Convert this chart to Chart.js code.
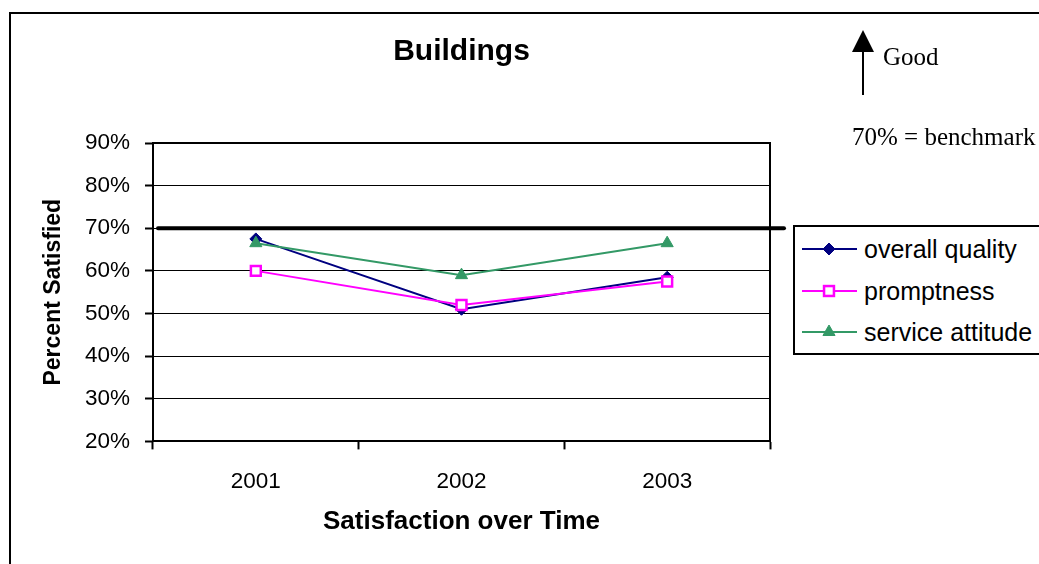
<!DOCTYPE html>
<html>
<head>
<meta charset="utf-8">
<title>Buildings</title>
<script src="https://cdn.jsdelivr.net/npm/chart.js@4.4.1/dist/chart.umd.min.js"></script>
<style>
  body { margin: 0; background: #fff; }
  #wrap { position: relative; width: 1039px; height: 564px; overflow: hidden; background: #fff; }
  #frame { position: absolute; left: 9px; top: 12px; width: 1100px; height: 600px; border: 2px solid #000; box-sizing: border-box; }
  #chart { position: absolute; left: 0; top: 0; }
  .note { position: absolute; font-family: 'Liberation Serif', 'Times New Roman', serif; font-size: 25px; line-height: 25px; color: #000; white-space: nowrap; }
  #arrow { position: absolute; left: 850px; top: 25px; }
  #legend { position: absolute; left: 793px; top: 225px; width: 300px; height: 130px; border: 2px solid #000; box-sizing: border-box; background: #fff;
            font-family: 'Liberation Sans', Arial, sans-serif; font-size: 25px; color: #000; }
  .row { position: absolute; left: 7px; height: 30px; display: flex; align-items: center; white-space: nowrap; }
  .row svg { margin-right: 7px; }
</style>
</head>
<body>
<div id="wrap">
  <div id="frame"></div>
  <canvas id="chart" width="1039" height="564"></canvas>
  <svg id="arrow" width="30" height="75">
    <line x1="13" y1="24" x2="13" y2="70" stroke="#000" stroke-width="2"/>
    <polygon points="2,27 24,27 13,5" fill="#000"/>
  </svg>
  <div class="note" style="left:883px; top:44px;">Good</div>
  <div class="note" style="left:852px; top:124px;">70% = benchmark</div>
  <div id="legend"></div>
</div>
<script>
// categories and series
const years = ['2001', '2002', '2003'];
const overallQuality = [67.5, 51, 58.5];
const promptness = [60, 52, 57.5];
const serviceAttitude = [66.5, 59, 66.5];

// y axis range (percent)
const yMin = 20;
const yMax = 90;
const yStep = 10;
const BENCHMARK = 70;

const series = [
  { label: 'overall quality', data: overallQuality, color: '#000080', fill: '#000080', style: 'rectRot', radius: 6, order: 3 },
  { label: 'promptness', data: promptness, color: '#ff00ff', fill: '#ffffff', style: 'rect', radius: 7, order: 2 },
  { label: 'service attitude', data: serviceAttitude, color: '#339966', fill: '#339966', style: 'triangle', radius: 7, order: 1 }
];

Chart.defaults.font.family = "'Liberation Sans', Arial, sans-serif";
Chart.defaults.color = '#000';

// plot frame (top/right) and the thick 70% benchmark line
const plotFrame = {
  id: 'plotFrame',
  beforeDatasetsDraw(chart) {
    const { ctx, chartArea: a, scales: { y } } = chart;
    ctx.save();
    ctx.strokeStyle = '#000';
    ctx.lineWidth = 2;
    ctx.beginPath();
    ctx.moveTo(a.left, a.top);
    ctx.lineTo(a.right, a.top);
    ctx.lineTo(a.right, a.bottom);
    ctx.stroke();

    const yb = y.getPixelForValue(BENCHMARK);
    ctx.lineWidth = 4;
    ctx.lineCap = 'round';
    ctx.beginPath();
    ctx.moveTo(a.left + 5, yb);
    ctx.lineTo(a.right + 14, yb);
    ctx.stroke();
    ctx.restore();
  }
};

new Chart(document.getElementById('chart'), {
  type: 'line',
  data: {
    labels: years,
    datasets: series.map(s => ({
      label: s.label,
      data: s.data,
      order: s.order,
      borderColor: s.color,
      borderWidth: 2,
      tension: 0,
      pointStyle: s.style,
      pointRadius: s.radius,
      pointBackgroundColor: s.fill,
      pointBorderColor: s.color,
      pointBorderWidth: s.style === 'rect' ? 2.5 : 1
    }))
  },
  options: {
    responsive: false,
    animation: false,
    layout: { padding: { top: 13, left: 40, right: 269, bottom: 27 } },
    plugins: {
      legend: { display: false },
      tooltip: { enabled: false },
      title: {
        display: true,
        text: 'Buildings',
        fullSize: false,
        font: { size: 30, weight: 'bold' },
        padding: { top: 21, bottom: 73 }
      }
    },
    scales: {
      x: {
        offset: true,
        grid: { offset: true, drawOnChartArea: false, tickLength: 8, tickWidth: 2, tickColor: '#000' },
        border: { display: true, color: '#000', width: 2 },
        ticks: { font: { size: 22.5 }, padding: 19, maxRotation: 0 },
        title: { display: true, text: 'Satisfaction over Time', font: { size: 26, weight: 'bold' }, padding: 0 },
        afterFit: s => { s.height = 95.6; }
      },
      y: {
        min: yMin,
        max: yMax,
        grid: { color: '#000', lineWidth: 1, tickLength: 8, tickWidth: 2, tickColor: '#000' },
        border: { display: true, color: '#000', width: 2 },
        ticks: { stepSize: yStep, font: { size: 22.5 }, padding: 15, callback: v => v + '%' },
        title: { display: true, text: 'Percent Satisfied', font: { size: 23, weight: 'bold' }, padding: 0 },
        afterFit: s => { s.width = 113; }
      }
    }
  },
  plugins: [plotFrame]
});

// legend box on the right
function markerSvg(s) {
  const cx = 27, cy = 10, r = s.radius;
  let shape;
  if (s.style === 'rectRot') {
    shape = `<polygon points="${cx},${cy - r} ${cx + r},${cy} ${cx},${cy + r} ${cx - r},${cy}" fill="${s.fill}" stroke="${s.color}"/>`;
  } else if (s.style === 'rect') {
    const h = r * Math.SQRT1_2;
    shape = `<rect x="${cx - h}" y="${cy - h}" width="${2 * h}" height="${2 * h}" fill="${s.fill}" stroke="${s.color}" stroke-width="2.5"/>`;
  } else {
    const w = r * Math.sqrt(3) / 2;
    shape = `<polygon points="${cx},${cy - r} ${cx + w},${cy + r / 2} ${cx - w},${cy + r / 2}" fill="${s.fill}" stroke="${s.color}"/>`;
  }
  return `<svg width="55" height="20"><line x1="0" y1="${cy}" x2="55" y2="${cy}" stroke="${s.color}" stroke-width="2"/>${shape}</svg>`;
}

const legendEl = document.getElementById('legend');
const rowTops = [7, 49, 90];
legendEl.innerHTML = series.map((s, i) =>
  `<div class="row" style="top:${rowTops[i]}px">${markerSvg(s)}<span>${s.label}</span></div>`
).join('');
</script>
</body>
</html>
